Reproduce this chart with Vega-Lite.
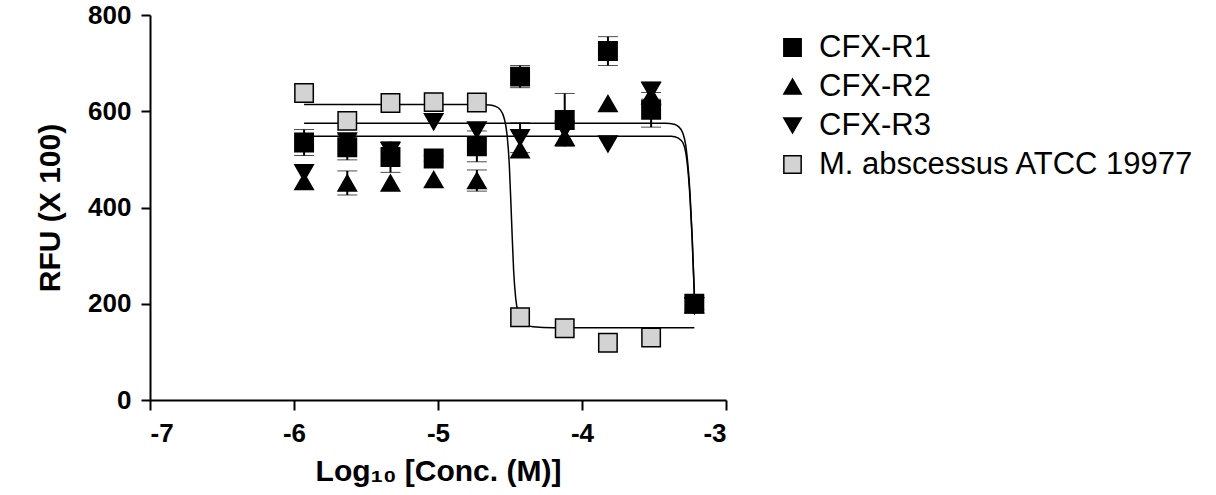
{
  "$schema": "https://vega.github.io/schema/vega-lite/v6.json",
  "width": 576,
  "height": 385,
  "autosize": "none",
  "padding": {"left": 150, "top": 15, "right": 490, "bottom": 95},
  "background": "white",
  "config": {
    "view": {"stroke": null},
    "font": "Liberation Sans",
    "axis": {
      "grid": false,
      "domainColor": "black",
      "domainWidth": 2,
      "tickColor": "black",
      "tickWidth": 2,
      "labelFont": "Liberation Sans",
      "labelFontWeight": "bold",
      "labelFontSize": 26,
      "labelColor": "black",
      "titleFont": "Liberation Sans",
      "titleFontWeight": "bold",
      "titleFontSize": 30,
      "titleColor": "black"
    },
    "legend": {
      "orient": "none",
      "legendX": 627,
      "legendY": 17,
      "padding": 0,
      "title": null,
      "labelFont": "Liberation Sans",
      "labelFontSize": 31,
      "labelColor": "black",
      "labelOffset": 11,
      "rowPadding": 7,
      "symbolSize": 300,
      "symbolStrokeColor": "black",
      "symbolStrokeWidth": 1.5,
      "labelLimit": 600
    }
  },
  "datasets": {
    "points": [
      {"series": "CFX-R1", "x": -5.93, "y": 535, "err": 27},
      {"series": "CFX-R1", "x": -5.63, "y": 525, "err": 26},
      {"series": "CFX-R1", "x": -5.33, "y": 505, "err": 32},
      {"series": "CFX-R1", "x": -5.03, "y": 502, "err": 6},
      {"series": "CFX-R1", "x": -4.73, "y": 527, "err": 32},
      {"series": "CFX-R1", "x": -4.43, "y": 672, "err": 23},
      {"series": "CFX-R1", "x": -4.12, "y": 582, "err": 55},
      {"series": "CFX-R1", "x": -3.82, "y": 725, "err": 30},
      {"series": "CFX-R1", "x": -3.52, "y": 603, "err": 36},
      {"series": "CFX-R1", "x": -3.22, "y": 200, "err": 12},
      {"series": "CFX-R2", "x": -5.93, "y": 454, "err": 0},
      {"series": "CFX-R2", "x": -5.63, "y": 451, "err": 25},
      {"series": "CFX-R2", "x": -5.33, "y": 451, "err": 0},
      {"series": "CFX-R2", "x": -5.03, "y": 458, "err": 0},
      {"series": "CFX-R2", "x": -4.73, "y": 456, "err": 22},
      {"series": "CFX-R2", "x": -4.43, "y": 520, "err": 0},
      {"series": "CFX-R2", "x": -4.12, "y": 546, "err": 0},
      {"series": "CFX-R2", "x": -3.82, "y": 616, "err": 0},
      {"series": "CFX-R2", "x": -3.52, "y": 632, "err": 0},
      {"series": "CFX-R2", "x": -3.22, "y": 198, "err": 0},
      {"series": "CFX-R3", "x": -5.93, "y": 472, "err": 0},
      {"series": "CFX-R3", "x": -5.63, "y": 538, "err": 0},
      {"series": "CFX-R3", "x": -5.33, "y": 518, "err": 0},
      {"series": "CFX-R3", "x": -5.03, "y": 578, "err": 0},
      {"series": "CFX-R3", "x": -4.73, "y": 561, "err": 0},
      {"series": "CFX-R3", "x": -4.43, "y": 545, "err": 31},
      {"series": "CFX-R3", "x": -4.12, "y": 562, "err": 0},
      {"series": "CFX-R3", "x": -3.82, "y": 532, "err": 0},
      {"series": "CFX-R3", "x": -3.52, "y": 643, "err": 18},
      {"series": "CFX-R3", "x": -3.22, "y": 196, "err": 0},
      {"series": "M. abscessus ATCC 19977", "x": -5.93, "y": 638, "err": 0},
      {"series": "M. abscessus ATCC 19977", "x": -5.63, "y": 580, "err": 0},
      {"series": "M. abscessus ATCC 19977", "x": -5.33, "y": 617, "err": 0},
      {"series": "M. abscessus ATCC 19977", "x": -5.03, "y": 619, "err": 0},
      {"series": "M. abscessus ATCC 19977", "x": -4.73, "y": 618, "err": 0},
      {"series": "M. abscessus ATCC 19977", "x": -4.43, "y": 172, "err": 0},
      {"series": "M. abscessus ATCC 19977", "x": -4.12, "y": 149, "err": 0},
      {"series": "M. abscessus ATCC 19977", "x": -3.82, "y": 119, "err": 0},
      {"series": "M. abscessus ATCC 19977", "x": -3.52, "y": 130, "err": 0}
    ],
    "fits": [
      {"series": "CFX-R1", "x": -5.93, "y": 575},
      {"series": "CFX-R1", "x": -3.42, "y": 575},
      {"series": "CFX-R1", "x": -3.36, "y": 573},
      {"series": "CFX-R1", "x": -3.33, "y": 568},
      {"series": "CFX-R1", "x": -3.30, "y": 555},
      {"series": "CFX-R1", "x": -3.28, "y": 530},
      {"series": "CFX-R1", "x": -3.265, "y": 490},
      {"series": "CFX-R1", "x": -3.25, "y": 430},
      {"series": "CFX-R1", "x": -3.235, "y": 340},
      {"series": "CFX-R1", "x": -3.22, "y": 220},
      {"series": "CFX-R3", "x": -5.93, "y": 548},
      {"series": "CFX-R3", "x": -3.38, "y": 548},
      {"series": "CFX-R3", "x": -3.33, "y": 544},
      {"series": "CFX-R3", "x": -3.30, "y": 535},
      {"series": "CFX-R3", "x": -3.28, "y": 515},
      {"series": "CFX-R3", "x": -3.265, "y": 480},
      {"series": "CFX-R3", "x": -3.25, "y": 420},
      {"series": "CFX-R3", "x": -3.235, "y": 335},
      {"series": "CFX-R3", "x": -3.22, "y": 220},
      {"series": "M. abscessus ATCC 19977", "x": -5.93, "y": 614},
      {"series": "M. abscessus ATCC 19977", "x": -4.75, "y": 614},
      {"series": "M. abscessus ATCC 19977", "x": -4.64, "y": 613},
      {"series": "M. abscessus ATCC 19977", "x": -4.60, "y": 610},
      {"series": "M. abscessus ATCC 19977", "x": -4.57, "y": 604},
      {"series": "M. abscessus ATCC 19977", "x": -4.54, "y": 585},
      {"series": "M. abscessus ATCC 19977", "x": -4.52, "y": 550},
      {"series": "M. abscessus ATCC 19977", "x": -4.505, "y": 490},
      {"series": "M. abscessus ATCC 19977", "x": -4.49, "y": 380},
      {"series": "M. abscessus ATCC 19977", "x": -4.475, "y": 270},
      {"series": "M. abscessus ATCC 19977", "x": -4.46, "y": 210},
      {"series": "M. abscessus ATCC 19977", "x": -4.44, "y": 178},
      {"series": "M. abscessus ATCC 19977", "x": -4.42, "y": 165},
      {"series": "M. abscessus ATCC 19977", "x": -4.39, "y": 156},
      {"series": "M. abscessus ATCC 19977", "x": -4.34, "y": 152},
      {"series": "M. abscessus ATCC 19977", "x": -4.20, "y": 150},
      {"series": "M. abscessus ATCC 19977", "x": -3.22, "y": 150}
    ]
  },
  "encoding": {
    "x": {
      "field": "x",
      "type": "quantitative",
      "scale": {"domain": [-7, -3], "nice": false, "zero": false},
      "axis": {"values": [-7, -6, -5, -4, -3], "tickSize": 10, "labelPadding": 10, "labelExpr": "replace(datum.label, '−', '-')", "title": "Log₁₀ [Conc. (M)]", "titlePadding": 10}
    },
    "y": {
      "field": "y",
      "type": "quantitative",
      "scale": {"domain": [0, 800], "nice": false},
      "axis": {"values": [0, 200, 400, 600, 800], "tickSize": 9, "labelPadding": 10, "title": "RFU (X 100)", "titlePadding": 22}
    }
  },
  "layer": [
    {
      "data": {"name": "fits"},
      "mark": {"type": "line", "interpolate": "monotone", "color": "black", "strokeWidth": 1.5},
      "encoding": {"detail": {"field": "series", "type": "nominal"}}
    },
    {
      "data": {"name": "points"},
      "transform": [{"filter": "datum.err > 0"}],
      "mark": {"type": "errorbar", "ticks": {"color": "black", "strokeWidth": 2, "size": 20}, "rule": {"color": "black", "strokeWidth": 2}},
      "encoding": {
        "x": {"field": "x", "type": "quantitative"},
        "y": {"field": "y", "type": "quantitative"},
        "yError": {"field": "err"},
        "detail": {"field": "series", "type": "nominal"}
      }
    },
    {
      "data": {"name": "points"},
      "mark": {"type": "point", "filled": true, "opacity": 1, "strokeWidth": 1.5, "size": 340},
      "encoding": {
        "shape": {
          "field": "series",
          "type": "nominal",
          "scale": {"domain": ["CFX-R1", "CFX-R2", "CFX-R3", "M. abscessus ATCC 19977"], "range": ["square", "triangle-up", "triangle-down", "square"]}
        },
        "fill": {
          "field": "series",
          "type": "nominal",
          "scale": {"domain": ["CFX-R1", "CFX-R2", "CFX-R3", "M. abscessus ATCC 19977"], "range": ["black", "black", "black", "#d3d3d3"]}
        },
        "stroke": {
          "field": "series",
          "type": "nominal",
          "scale": {"domain": ["CFX-R1", "CFX-R2", "CFX-R3", "M. abscessus ATCC 19977"], "range": ["black", "black", "black", "black"]}
        }
      }
    }
  ]
}
